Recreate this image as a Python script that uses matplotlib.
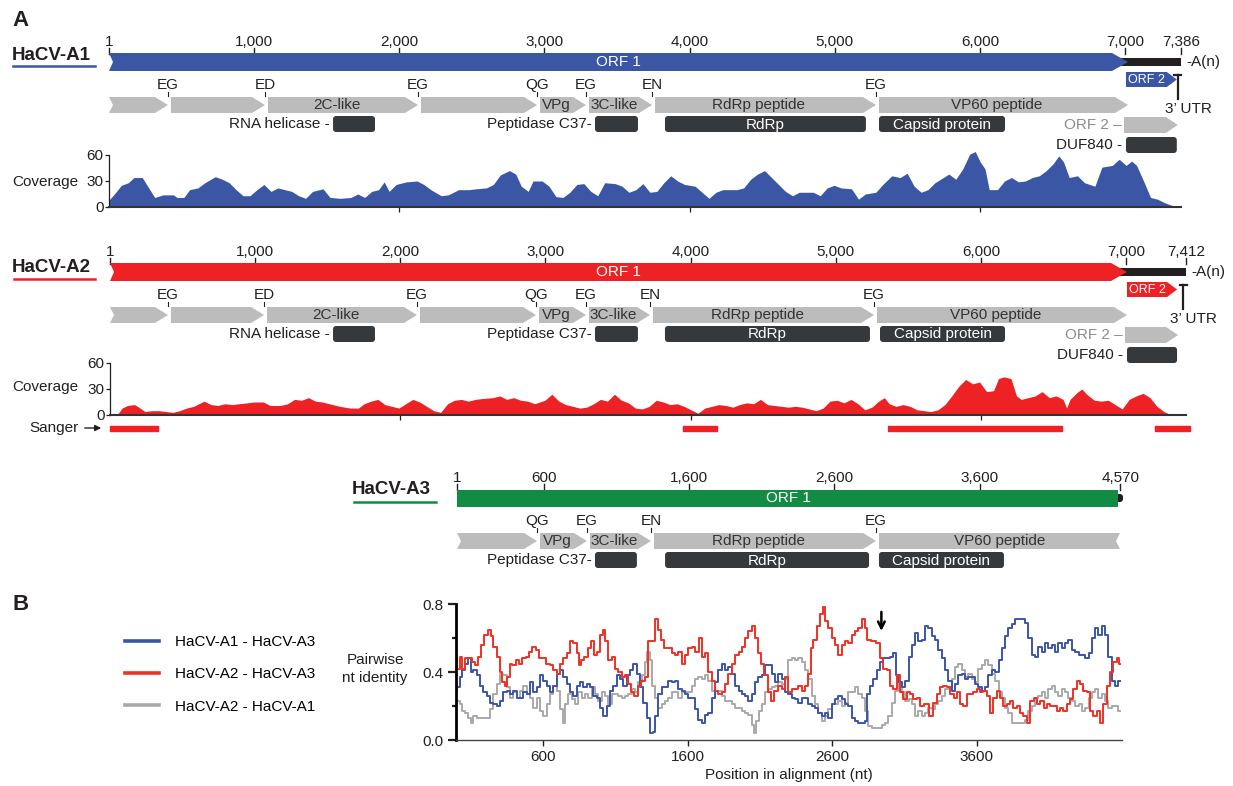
import matplotlib.pyplot as plt
from matplotlib.patches import Polygon, FancyBboxPatch, Rectangle
from matplotlib.lines import Line2D
from matplotlib.ticker import FormatStrFormatter, FixedLocator

plt.rcParams['font.family'] = ['Liberation Sans', 'DejaVu Sans']
plt.rcParams['font.size'] = 11

# ---------------- genome annotations (nt) ----------------
A1_LEN = 7386
A1_TICKS = [1, 1000, 2000, 3000, 4000, 5000, 6000, 7000, 7386]
A1_ORF1_END = 7019
A1_SITES = [407, 1075, 2129, 2949, 3286, 3741, 5283]
A1_DOMAINS = [(1544, 1833), (3348, 3644), (3830, 5214), (5304, 6172)]
A1_ORF2 = (7005, 7355)
A1_UTR_MARK = 7363

A2_LEN = 7412
A2_TICKS = [1, 1000, 2000, 3000, 4000, 5000, 6000, 7000, 7412]
A2_ORF1_END = 7005
A2_SITES = [400, 1062, 2115, 2935, 3279, 3720, 5263]
A2_DOMAINS = [(1537, 1826), (3341, 3637), (3823, 5235), (5304, 6165)]
A2_ORF2 = (7005, 7350)
A2_UTR_MARK = 7391
A2_SANGER = [(1, 331), (3947, 4181), (5359, 6557), (7198, 7440)]

A3_LEN = 4570
A3_TICKS = [1, 600, 1600, 2600, 3600, 4570]
A3_ORF1_END = 4567
A3_SITES = [552, 896, 1337, 2887]
A3_DOMAINS = [(951, 1240), (1434, 2839), (2907, 3768)]

A_SITE_LABELS = ['EG', 'ED', 'EG', 'QG', 'EG', 'EN', 'EG']
A_PEPTIDES = ['', '', '2C-like', '', 'VPg', '3C-like', 'RdRp peptide', 'VP60 peptide']
A_DOMAIN_LABELS = ['RNA helicase -', 'Peptidase C37-', 'RdRp', 'Capsid protein']
A3_SITE_LABELS = ['QG', 'EG', 'EN', 'EG']
A3_PEPTIDES = ['', 'VPg', '3C-like', 'RdRp peptide', 'VP60 peptide']
A3_DOMAIN_LABELS = ['Peptidase C37-', 'RdRp', 'Capsid protein']

# ---------------- read coverage ----------------
A1_COV_POS = [1, 38, 86, 134, 172, 230, 278, 316, 374, 445, 469, 517, 556, 613, 661, 733, 781, 829,
              876, 924, 972, 1020, 1068, 1116, 1164, 1212, 1260, 1307, 1355, 1403, 1475, 1523, 1595,
              1667, 1714, 1762, 1810, 1858, 1896, 1930, 1978, 2050, 2122, 2169, 2217, 2289, 2337,
              2409, 2481, 2529, 2600, 2648, 2696, 2759, 2802, 2840, 2888, 2921, 2984, 3031, 3079,
              3127, 3175, 3223, 3271, 3319, 3367, 3415, 3486, 3534, 3582, 3630, 3678, 3726, 3774,
              3822, 3870, 3917, 3965, 4037, 4085, 4133, 4181, 4229, 4277, 4325, 4372, 4420, 4468,
              4516, 4564, 4612, 4660, 4708, 4755, 4803, 4851, 4899, 4947, 4995, 5043, 5115, 5163,
              5210, 5282, 5330, 5392, 5450, 5498, 5546, 5594, 5641, 5689, 5747, 5785, 5833, 5881,
              5929, 5967, 6001, 6034, 6063, 6120, 6168, 6216, 6264, 6312, 6360, 6408, 6456, 6504,
              6542, 6575, 6614, 6671, 6719, 6791, 6839, 6911, 6958, 7006, 7044, 7078, 7126, 7174,
              7222, 7270, 7318, 7366]
A1_COV = [8, 15, 25, 28, 34, 34, 21, 11, 14, 14, 11, 11, 20, 22, 28, 35, 32, 28,
          20, 13, 13, 20, 26, 18, 22, 20, 18, 13, 10, 18, 21, 11, 10,
          11, 15, 11, 18, 20, 29, 18, 26, 29, 30, 26, 20, 13, 14,
          20, 20, 21, 22, 26, 37, 42, 38, 24, 18, 30, 30, 24, 12,
          11, 17, 26, 27, 18, 13, 28, 27, 24, 17, 20, 27, 17, 18,
          28, 36, 30, 26, 24, 17, 10, 17, 20, 20, 20, 22, 32, 38,
          42, 34, 26, 18, 13, 17, 17, 17, 13, 22, 25, 22, 21, 9,
          15, 17, 26, 36, 34, 39, 24, 17, 20, 28, 34, 38, 32, 44,
          61, 64, 52, 44, 20, 20, 30, 34, 29, 30, 34, 36, 42, 50,
          59, 52, 34, 36, 28, 24, 46, 48, 55, 48, 53, 48, 30, 11,
          9, 5, 2, 1]

A2_COV_POS = [50, 84, 122, 170, 208, 242, 290, 338, 386, 433, 481, 529, 577, 649, 697, 745, 793, 841,
              889, 946, 994, 1056, 1104, 1176, 1224, 1272, 1320, 1368, 1415, 1463, 1511, 1583, 1655,
              1712, 1751, 1799, 1846, 1894, 1942, 1990, 2038, 2086, 2134, 2182, 2230, 2278, 2326,
              2373, 2421, 2469, 2517, 2565, 2637, 2685, 2733, 2781, 2829, 2877, 2925, 2996, 3044,
              3092, 3140, 3188, 3236, 3284, 3332, 3379, 3427, 3475, 3523, 3571, 3619, 3667, 3715,
              3763, 3811, 3858, 3906, 3954, 4002, 4050, 4098, 4146, 4194, 4242, 4290, 4337, 4385,
              4433, 4481, 4529, 4577, 4625, 4673, 4721, 4769, 4816, 4864, 4912, 4960, 5008, 5056,
              5104, 5152, 5200, 5248, 5295, 5334, 5367, 5415, 5463, 5511, 5559, 5607, 5655, 5703,
              5751, 5798, 5846, 5894, 5942, 5990, 6038, 6086, 6120, 6158, 6206, 6244, 6277, 6325,
              6373, 6421, 6469, 6517, 6565, 6589, 6613, 6661, 6694, 6733, 6781, 6828, 6876, 6924,
              6972, 7020, 7068, 7116, 7164, 7211, 7259, 7298]
A2_COV = [0, 8, 11, 12, 8, 4, 5, 5, 4, 3, 5, 8, 10, 16, 12, 11, 13, 12,
          13, 14, 15, 15, 11, 11, 13, 18, 17, 20, 16, 15, 13, 10, 8,
          8, 13, 16, 18, 12, 10, 8, 13, 18, 15, 10, 5, 3, 13,
          17, 18, 16, 18, 19, 20, 22, 18, 20, 17, 16, 13, 17, 24,
          16, 12, 10, 8, 9, 13, 18, 16, 24, 17, 14, 8, 7, 10,
          17, 15, 12, 13, 10, 6, 2, 8, 10, 12, 11, 9, 12, 14,
          13, 18, 12, 11, 10, 9, 10, 9, 7, 5, 8, 16, 17, 14,
          18, 13, 6, 9, 16, 20, 13, 10, 12, 10, 6, 5, 4, 6,
          12, 22, 33, 41, 36, 38, 27, 28, 42, 44, 42, 22, 18, 20,
          22, 27, 20, 22, 18, 8, 18, 26, 30, 23, 17, 16, 17, 12,
          7, 18, 22, 25, 20, 10, 4, 1]

# ---------------- pairwise identity (panel B) ----------------
RED_POS = [1, 17, 33, 51, 74, 97, 120, 143, 162, 185, 208, 231, 247, 270, 293, 309, 328, 346, 362,
           378, 401, 425, 448, 471, 494, 517, 540, 563, 586, 609, 632, 662, 685, 708, 731, 754, 777,
           800, 823, 846, 858, 876, 899, 922, 945, 961, 984, 1007, 1019, 1042, 1065, 1088, 1111,
           1134, 1157, 1180, 1203, 1222, 1245, 1268, 1295, 1318, 1342, 1365, 1388, 1406, 1429,
           1452, 1480, 1503, 1526, 1549, 1572, 1595, 1618, 1641, 1664, 1692, 1715, 1733, 1756,
           1779, 1802, 1825, 1848, 1871, 1894, 1918, 1941, 1964, 1987, 2010, 2033, 2056, 2074,
           2097, 2120, 2143, 2166, 2189, 2212, 2240, 2263, 2286, 2309, 2332, 2355, 2378, 2401,
           2424, 2443, 2459, 2482, 2505, 2528, 2544, 2563, 2586, 2609, 2632, 2655, 2678, 2701,
           2724, 2747, 2770, 2793, 2816, 2834, 2851, 2885, 2920, 2943, 2966, 2989, 3012, 3035,
           3058, 3081, 3104, 3127, 3150, 3173, 3196, 3219, 3254, 3288, 3311, 3334, 3357, 3380,
           3403, 3427, 3450, 3473, 3496, 3519, 3542, 3565, 3588, 3611, 3634, 3657, 3680, 3703,
           3726, 3749, 3772, 3795, 3818, 3841, 3864, 3887, 3910, 3933, 3956, 3980, 4003, 4026,
           4049, 4072, 4095, 4118, 4141, 4164, 4187, 4210, 4233, 4256, 4279, 4302, 4325, 4348,
           4371, 4394, 4417, 4440, 4463, 4486, 4509, 4532, 4555, 4579, 4590]
RED_ID = [0.48, 0.42, 0.49, 0.42, 0.48, 0.48, 0.46, 0.44, 0.49, 0.56, 0.62, 0.65, 0.61, 0.55, 0.49,
          0.40, 0.34, 0.32, 0.37, 0.45, 0.44, 0.47, 0.45, 0.48, 0.49, 0.52, 0.55, 0.53, 0.48, 0.48,
          0.45, 0.44, 0.41, 0.39, 0.45, 0.48, 0.51, 0.58, 0.57, 0.51, 0.44, 0.47, 0.49, 0.54, 0.58,
          0.50, 0.52, 0.62, 0.65, 0.58, 0.47, 0.49, 0.42, 0.40, 0.37, 0.38, 0.33, 0.28, 0.26, 0.32,
          0.35, 0.37, 0.58, 0.58, 0.71, 0.65, 0.59, 0.54, 0.54, 0.51, 0.50, 0.52, 0.45, 0.50, 0.54,
          0.55, 0.52, 0.60, 0.49, 0.51, 0.40, 0.35, 0.29, 0.27, 0.28, 0.33, 0.39, 0.45, 0.50, 0.52,
          0.55, 0.60, 0.64, 0.67, 0.60, 0.51, 0.45, 0.38, 0.28, 0.23, 0.29, 0.32, 0.30, 0.37, 0.28,
          0.30, 0.30, 0.32, 0.29, 0.32, 0.39, 0.54, 0.59, 0.67, 0.74, 0.78, 0.70, 0.66, 0.60, 0.56,
          0.50, 0.56, 0.58, 0.57, 0.62, 0.64, 0.66, 0.71, 0.66, 0.59, 0.58, 0.57, 0.48, 0.42, 0.41,
          0.32, 0.30, 0.38, 0.28, 0.24, 0.28, 0.27, 0.24, 0.25, 0.20, 0.21, 0.14, 0.22, 0.27, 0.31,
          0.32, 0.31, 0.27, 0.25, 0.28, 0.21, 0.20, 0.27, 0.27, 0.28, 0.30, 0.28, 0.29, 0.26, 0.16,
          0.25, 0.29, 0.25, 0.20, 0.21, 0.23, 0.19, 0.20, 0.16, 0.14, 0.10, 0.23, 0.25, 0.21, 0.23,
          0.19, 0.21, 0.20, 0.20, 0.17, 0.19, 0.17, 0.21, 0.24, 0.30, 0.35, 0.33, 0.29, 0.28, 0.17,
          0.14, 0.17, 0.10, 0.21, 0.32, 0.40, 0.46, 0.48, 0.45]

BLUE_POS = [1, 17, 33, 51, 74, 93, 109, 132, 155, 178, 201, 224, 247, 270, 293, 316, 339, 362, 385,
            408, 431, 454, 478, 501, 524, 547, 570, 593, 616, 639, 662, 685, 708, 731, 754, 777,
            800, 823, 846, 869, 892, 915, 938, 961, 984, 1007, 1030, 1053, 1077, 1100, 1123, 1146,
            1169, 1192, 1215, 1238, 1261, 1284, 1307, 1330, 1353, 1369, 1388, 1411, 1434, 1457,
            1480, 1503, 1526, 1549, 1572, 1595, 1618, 1641, 1664, 1687, 1710, 1733, 1756, 1779,
            1802, 1825, 1848, 1871, 1894, 1918, 1941, 1964, 1987, 2010, 2033, 2056, 2079, 2102,
            2125, 2148, 2171, 2194, 2217, 2240, 2263, 2286, 2309, 2332, 2355, 2378, 2401, 2424,
            2447, 2470, 2493, 2516, 2540, 2563, 2586, 2609, 2632, 2655, 2678, 2701, 2724, 2747,
            2770, 2793, 2816, 2834, 2851, 2874, 2897, 2920, 2943, 2966, 2989, 3012, 3035, 3046,
            3069, 3092, 3116, 3139, 3162, 3185, 3208, 3231, 3254, 3277, 3300, 3323, 3346, 3369,
            3392, 3415, 3438, 3461, 3484, 3507, 3530, 3553, 3576, 3599, 3622, 3645, 3668, 3692,
            3715, 3738, 3761, 3784, 3807, 3830, 3853, 3876, 3899, 3922, 3945, 3968, 3991, 4014,
            4037, 4060, 4083, 4106, 4129, 4152, 4175, 4198, 4221, 4244, 4268, 4291, 4314, 4337,
            4360, 4383, 4406, 4429, 4452, 4475, 4498, 4521, 4544, 4567, 4590]
BLUE_ID = [0.29, 0.31, 0.37, 0.41, 0.45, 0.48, 0.40, 0.41, 0.38, 0.32, 0.28, 0.26, 0.22, 0.21, 0.20,
           0.23, 0.28, 0.29, 0.27, 0.29, 0.25, 0.25, 0.28, 0.27, 0.34, 0.28, 0.31, 0.38, 0.35, 0.32,
           0.28, 0.32, 0.39, 0.41, 0.37, 0.33, 0.28, 0.26, 0.32, 0.34, 0.31, 0.33, 0.31, 0.26, 0.25,
           0.19, 0.14, 0.20, 0.29, 0.32, 0.38, 0.36, 0.32, 0.38, 0.41, 0.45, 0.39, 0.31, 0.22, 0.13,
           0.04, 0.05, 0.14, 0.27, 0.31, 0.31, 0.35, 0.34, 0.35, 0.30, 0.29, 0.27, 0.25, 0.25, 0.18,
           0.12, 0.10, 0.15, 0.16, 0.25, 0.34, 0.41, 0.45, 0.41, 0.43, 0.39, 0.32, 0.29, 0.27, 0.26,
           0.23, 0.27, 0.34, 0.37, 0.38, 0.44, 0.44, 0.39, 0.34, 0.39, 0.36, 0.28, 0.27, 0.25, 0.24,
           0.22, 0.25, 0.25, 0.21, 0.20, 0.19, 0.16, 0.14, 0.16, 0.13, 0.21, 0.24, 0.26, 0.24, 0.21,
           0.20, 0.13, 0.11, 0.10, 0.10, 0.11, 0.27, 0.32, 0.36, 0.41, 0.46, 0.48, 0.48, 0.49, 0.51,
           0.38, 0.34, 0.31, 0.35, 0.49, 0.56, 0.63, 0.58, 0.59, 0.67, 0.66, 0.61, 0.59, 0.53, 0.48,
           0.41, 0.35, 0.29, 0.33, 0.38, 0.39, 0.36, 0.37, 0.37, 0.33, 0.31, 0.29, 0.31, 0.38, 0.41,
           0.40, 0.47, 0.54, 0.61, 0.66, 0.68, 0.71, 0.71, 0.71, 0.69, 0.60, 0.50, 0.49, 0.55, 0.52,
           0.57, 0.54, 0.56, 0.52, 0.57, 0.54, 0.57, 0.59, 0.53, 0.52, 0.50, 0.50, 0.48, 0.51, 0.60,
           0.66, 0.62, 0.67, 0.62, 0.49, 0.35, 0.32, 0.35]

GREY_POS = [1, 17, 33, 51, 74, 97, 109, 132, 155, 178, 201, 224, 247, 270, 293, 316, 339, 362, 385,
            408, 431, 454, 478, 501, 524, 547, 570, 593, 616, 639, 662, 685, 708, 731, 747, 766,
            789, 812, 835, 858, 881, 904, 927, 950, 973, 996, 1019, 1042, 1065, 1088, 1111, 1134,
            1157, 1180, 1203, 1226, 1249, 1272, 1295, 1314, 1330, 1346, 1365, 1388, 1411, 1434,
            1457, 1480, 1503, 1526, 1549, 1572, 1595, 1618, 1641, 1664, 1687, 1710, 1733, 1756,
            1779, 1802, 1825, 1848, 1871, 1894, 1918, 1941, 1964, 1987, 2010, 2033, 2056, 2067,
            2083, 2102, 2125, 2148, 2171, 2194, 2217, 2240, 2263, 2286, 2309, 2332, 2355, 2378,
            2401, 2424, 2447, 2470, 2493, 2516, 2540, 2563, 2586, 2609, 2632, 2655, 2678, 2701,
            2724, 2747, 2770, 2793, 2816, 2839, 2862, 2885, 2908, 2931, 2954, 2977, 3000, 3023,
            3046, 3069, 3092, 3116, 3139, 3162, 3185, 3208, 3231, 3254, 3277, 3300, 3323, 3346,
            3369, 3392, 3415, 3438, 3461, 3484, 3507, 3530, 3553, 3576, 3599, 3622, 3645, 3668,
            3692, 3715, 3738, 3761, 3784, 3807, 3830, 3853, 3876, 3899, 3922, 3945, 3968, 3991,
            4014, 4037, 4060, 4083, 4106, 4129, 4152, 4175, 4198, 4221, 4244, 4268, 4291, 4314,
            4337, 4360, 4383, 4406, 4429, 4452, 4475, 4498, 4521, 4544, 4567, 4590]
GREY_ID = [0.23, 0.23, 0.21, 0.17, 0.16, 0.13, 0.10, 0.14, 0.13, 0.13, 0.13, 0.13, 0.18, 0.27, 0.33,
           0.39, 0.38, 0.31, 0.25, 0.28, 0.25, 0.29, 0.32, 0.27, 0.25, 0.19, 0.25, 0.17, 0.14, 0.21,
           0.27, 0.32, 0.29, 0.18, 0.10, 0.21, 0.27, 0.24, 0.21, 0.28, 0.25, 0.27, 0.25, 0.31, 0.27,
           0.23, 0.28, 0.26, 0.21, 0.27, 0.27, 0.26, 0.25, 0.26, 0.27, 0.30, 0.28, 0.34, 0.38, 0.46,
           0.52, 0.47, 0.32, 0.25, 0.19, 0.21, 0.23, 0.25, 0.28, 0.28, 0.25, 0.28, 0.28, 0.28, 0.32,
           0.36, 0.37, 0.36, 0.38, 0.35, 0.29, 0.29, 0.29, 0.26, 0.23, 0.23, 0.21, 0.19, 0.19, 0.17,
           0.16, 0.15, 0.09, 0.04, 0.11, 0.17, 0.21, 0.28, 0.30, 0.31, 0.32, 0.34, 0.33, 0.36, 0.47,
           0.48, 0.47, 0.48, 0.46, 0.41, 0.36, 0.26, 0.21, 0.16, 0.11, 0.14, 0.18, 0.21, 0.21, 0.23,
           0.20, 0.22, 0.28, 0.28, 0.31, 0.27, 0.25, 0.17, 0.08, 0.07, 0.07, 0.07, 0.09, 0.10, 0.14,
           0.22, 0.29, 0.33, 0.28, 0.23, 0.24, 0.21, 0.14, 0.17, 0.14, 0.16, 0.19, 0.18, 0.21, 0.23,
           0.26, 0.30, 0.31, 0.36, 0.43, 0.45, 0.41, 0.37, 0.39, 0.36, 0.34, 0.42, 0.44, 0.47, 0.44,
           0.39, 0.35, 0.28, 0.25, 0.19, 0.16, 0.10, 0.10, 0.10, 0.10, 0.12, 0.17, 0.20, 0.25, 0.26,
           0.28, 0.25, 0.30, 0.32, 0.28, 0.26, 0.30, 0.28, 0.25, 0.23, 0.20, 0.21, 0.17, 0.19, 0.25,
           0.28, 0.30, 0.25, 0.27, 0.23, 0.19, 0.20, 0.20, 0.17]

PAIR_LABELS = ['HaCV-A1 - HaCV-A3', 'HaCV-A2 - HaCV-A3', 'HaCV-A2 - HaCV-A1']
B_XTICKS = [600, 1600, 2600, 3600]
ARROW_POS = 2940

# ---------------- style ----------------
DARK = '#231f20'
PEP = '#bcbcbc'
BOX = '#36393b'
BLUE = '#3a56a5'
RED = '#ee2124'
GREEN = '#128c44'
LBLUE = '#3b55a6'
LRED = '#ef3124'
LGREY = '#a9a9a9'

W, H = 1233, 786
PX = 0.1452   # pixels per nucleotide in the genome maps

fig = plt.figure(figsize=(W / 100, H / 100), dpi=100)

ov = fig.add_axes([0, 0, 1, 1])
ov.set_xlim(0, W)
ov.set_ylim(H, 0)
ov.axis('off')


def add_ax(x0, y0, x1, y1):
    return fig.add_axes([x0 / W, 1 - y1 / H, (x1 - x0) / W, (y1 - y0) / H])


def shape(ax, start, end, yc, h, color, head=12, notch_l=False, notch_r=False, z=2):
    hn = head / PX
    n = 4 / PX
    top, bot = yc - h / 2, yc + h / 2
    pts = [(start, top)]
    if head:
        pts += [(end - hn, top), (end, yc), (end - hn, bot)]
    elif notch_r:
        pts += [(end, top), (end - n, yc), (end, bot)]
    else:
        pts += [(end, top), (end, bot)]
    pts.append((start, bot))
    if notch_l:
        pts.append((start + n, yc))
    ax.add_patch(Polygon(pts, closed=True, fc=color, ec='none', zorder=z, clip_on=False))


def rbox(ax, start, end, yc, h, color, r=3, z=2):
    ax.add_patch(FancyBboxPatch((start, yc - h / 2), end - start, h,
                                boxstyle='round,pad=0,rounding_size=%f' % (r / PX),
                                mutation_aspect=PX, fc=color, ec='none', zorder=z, clip_on=False))


def genome_map(x0, off, length, ticks, orf1_end, color, sites, site_labels, peptides,
               domains, domain_labels, orf2=None, utr=None, full=True):
    ax = add_ax(x0, 30 + off, x0 + (length - 1) * PX, 160 + off)
    ax.set_xlim(1, length)
    ax.set_ylim(160, 30)
    ax.axis('off')

    for t in ticks:
        ax.plot([t, t], [48, 53.5], color=DARK, lw=1, clip_on=False)
        ax.text(t, 42, '{:,}'.format(t), ha='center', va='center', color=DARK, clip_on=False)

    # ORF 1
    if full:
        shape(ax, 1, orf1_end, 62, 18, color, head=16, notch_l=True, z=3)
        ustart = orf1_end - 8 / PX
        ax.add_patch(Rectangle((ustart, 58), length - ustart, 8, fc=DARK, ec='none',
                               zorder=2, clip_on=False))
        ax.text(length + 5 / PX, 62, '-A(n)', ha='left', va='center', color=DARK)
    else:
        shape(ax, 1, orf1_end - 2 / PX, 62, 17, color, head=0, z=3)
        rbox(ax, orf1_end - 4 / PX, orf1_end + 3 / PX, 62, 8, DARK, r=3, z=2)
    ax.text((1 + orf1_end) / 2, 62.5, 'ORF 1', ha='center', va='center', color='white',
            fontsize=11, zorder=4)

    # cleavage sites
    for s, lab in zip(sites, site_labels):
        ax.text(s, 85, lab, ha='center', va='center', color=DARK, clip_on=False)
        ax.plot([s, s], [91.5, 96], color=DARK, lw=0.8, clip_on=False)

    # peptides
    gap = 3 / PX
    starts = [1] + [s + gap for s in sites]
    ends = list(sites) + [orf1_end]
    for i, (s, e, lab) in enumerate(zip(starts, ends, peptides)):
        last = i == len(starts) - 1
        if last and not full:
            shape(ax, s, e, 105, 16, PEP, head=0, notch_r=True)
            cx = (s + e) / 2
        else:
            shape(ax, s, e, 105, 16, PEP, head=13, notch_l=(i == 0))
            cx = (s + e - 13 / PX) / 2
        if lab:
            ax.text(cx, 105, lab, ha='center', va='center', color='#333333', zorder=4)

    # domains
    for (s, e), lab in zip(domains, domain_labels):
        rbox(ax, s, e, 124, 16, BOX)
        if lab.endswith('-'):
            ax.text(s - 3 / PX, 124, lab, ha='right', va='center', color=DARK)
        else:
            ax.text((s + e) / 2, 124.5, lab, ha='center', va='center', color='white', zorder=4)

    if orf2 is not None:
        shape(ax, orf2[0], orf2[1], 79.5, 15, color, head=10)
        ax.text((orf2[0] + orf2[1] - 10 / PX) / 2, 80, 'ORF 2', ha='center', va='center',
                color='white', fontsize=9, zorder=4)
        shape(ax, orf2[0] - 2 / PX, orf2[1] + 1 / PX, 125, 16, PEP, head=12)
        ax.text(orf2[0] - 4 / PX, 125, 'ORF 2 \u2013', ha='right', va='center', color='#8c8c8c')
        rbox(ax, orf2[0], orf2[1], 145, 16, BOX)
        ax.text(orf2[0] - 4 / PX, 145, 'DUF840 -', ha='right', va='center', color=DARK)
    if utr is not None:
        ax.plot([utr, utr], [75, 99], color=DARK, lw=1.6, clip_on=False)
        ax.plot([utr - 3.5 / PX, utr + 3.5 / PX], [75, 75], color=DARK, lw=1.6, clip_on=False)
        ax.text(utr + 10 / PX, 109, '3\u2019 UTR', ha='center', va='center', color=DARK)
    return ax


def coverage(x0, y0, length, pos, vals, color):
    ax = add_ax(x0, y0, x0 + (length - 1) * PX, y0 + 52)
    ax.fill_between(pos, vals, 0, color=color, lw=0, clip_on=False)
    ax.set_xlim(1, length)
    ax.set_ylim(0, 60)
    for sp in ('top', 'right'):
        ax.spines[sp].set_visible(False)
    ax.spines['bottom'].set_color('#333333')
    ax.spines['bottom'].set_linewidth(1.5)
    ax.spines['left'].set_color(DARK)
    ax.spines['left'].set_linewidth(0.9)
    ax.set_yticks([0, 30, 60])
    ax.set_xticks([2000, 4000, 6000])
    ax.set_xticklabels([])
    ax.tick_params(axis='y', length=3, width=0.9, pad=1, colors=DARK, labelsize=11)
    ax.tick_params(axis='x', length=3.5, width=0.9, colors=DARK)
    ax.patch.set_alpha(0)
    return ax


# ---------------- panel A ----------------
genome_map(109, 0, A1_LEN, A1_TICKS, A1_ORF1_END, BLUE, A1_SITES, A_SITE_LABELS, A_PEPTIDES,
           A1_DOMAINS, A_DOMAIN_LABELS, orf2=A1_ORF2, utr=A1_UTR_MARK)
genome_map(110, 210, A2_LEN, A2_TICKS, A2_ORF1_END, RED, A2_SITES, A_SITE_LABELS, A_PEPTIDES,
           A2_DOMAINS, A_DOMAIN_LABELS, orf2=A2_ORF2, utr=A2_UTR_MARK)
genome_map(457, 436, A3_LEN, A3_TICKS, A3_ORF1_END, GREEN, A3_SITES, A3_SITE_LABELS, A3_PEPTIDES,
           A3_DOMAINS, A3_DOMAIN_LABELS, full=False)

coverage(109, 155, A1_LEN, A1_COV_POS, A1_COV, BLUE)
coverage(110, 363, A2_LEN, A2_COV_POS, A2_COV, RED)

sg = add_ax(110, 423, 110 + (A2_LEN - 1) * PX, 433)
sg.broken_barh([(s, e - s) for s, e in A2_SANGER], (0.25, 0.5), color=RED, clip_on=False)
sg.set_xlim(1, A2_LEN)
sg.set_ylim(0, 1)
sg.axis('off')

ov.text(12, 20, 'A', fontsize=16, fontweight='bold', va='center', color=DARK)
ov.text(12, 55, 'HaCV-A1', fontsize=13.5, fontweight='bold', va='center', color=DARK)
ov.plot([13, 95], [65.5, 65.5], color=BLUE, lw=1.8)
ov.text(12, 267, 'HaCV-A2', fontsize=13.5, fontweight='bold', va='center', color=DARK)
ov.plot([14, 95], [279, 279], color=RED, lw=1.8)
ov.text(352, 490, 'HaCV-A3', fontsize=13.5, fontweight='bold', va='center', color=DARK)
ov.plot([354, 436], [502, 502], color=GREEN, lw=1.8)
ov.text(12, 182, 'Coverage', va='center', color=DARK)
ov.text(12, 387, 'Coverage', va='center', color=DARK)
ov.text(79, 428, 'Sanger', ha='right', va='center', color=DARK)
ov.annotate('', xy=(104, 428), xytext=(82, 428),
            arrowprops=dict(arrowstyle='-|>', color=DARK, lw=1, mutation_scale=9))

# ---------------- panel B ----------------
ov.text(12, 604, 'B', fontsize=16, fontweight='bold', va='center', color=DARK)
ov.text(375, 669, 'Pairwise\nnt identity', ha='center', va='center', linespacing=1.35, color=DARK)

axb = add_ax(456, 604, 1122, 740)
axb.plot(GREY_POS, GREY_ID, color=LGREY, lw=1.4, drawstyle='steps-mid')
axb.plot(BLUE_POS, BLUE_ID, color=LBLUE, lw=1.4, drawstyle='steps-mid')
axb.plot(RED_POS, RED_ID, color=LRED, lw=1.4, drawstyle='steps-mid')
axb.set_xlim(0, 4603)
axb.set_ylim(0, 0.8)
for sp in ('top', 'right'):
    axb.spines[sp].set_visible(False)
axb.spines['left'].set_linewidth(2)
axb.spines['left'].set_color('black')
axb.spines['bottom'].set_linewidth(1)
axb.spines['bottom'].set_color('#444444')
axb.set_yticks([0, 0.4, 0.8])
axb.yaxis.set_minor_locator(FixedLocator([0.2, 0.6]))
axb.yaxis.set_major_formatter(FormatStrFormatter('%.1f'))
axb.set_xticks(B_XTICKS)
axb.tick_params(axis='y', which='major', length=6, width=1.6, pad=3, colors=DARK, labelsize=11)
axb.tick_params(axis='y', which='minor', length=3, width=1.6, colors=DARK)
axb.tick_params(axis='x', length=4, width=1, pad=3, colors=DARK, labelsize=11)
axb.set_xlabel('Position in alignment (nt)', fontsize=11, color=DARK, labelpad=3)
axb.annotate('', xy=(ARROW_POS, 0.625), xytext=(ARROW_POS, 0.77),
             arrowprops=dict(arrowstyle='->', color='black', lw=1.8, mutation_scale=12))
axb.patch.set_alpha(0)

handles = [Line2D([], [], color=c, lw=2.6) for c in (LBLUE, LRED, LGREY)]
axb.legend(handles, PAIR_LABELS, loc='upper left', bbox_to_anchor=(125 / W, 1 - 635 / H),
           bbox_transform=fig.transFigure, frameon=False, fontsize=11, handlelength=2.2,
           handletextpad=1.1, labelspacing=1.2, borderpad=0, borderaxespad=0)

fig.savefig('out.png', dpi=100)
